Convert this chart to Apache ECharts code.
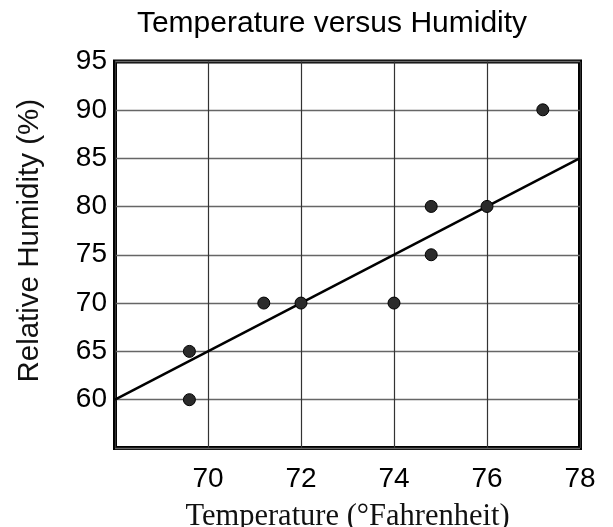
<!DOCTYPE html>
<html>
<head>
<meta charset="utf-8">
<script src="https://cdn.jsdelivr.net/npm/echarts@6/dist/echarts.min.js"></script>
<style>
html,body{margin:0;padding:0;background:#fff;}
#chart{width:613px;height:527px;}
</style>
</head>
<body>
<div id="chart"></div>
<script>
// Data
const temperatures = [69.6, 69.6, 71.2, 72, 74, 74.8, 74.8, 76, 77.2];
const humidities   = [65,   60,   70,   70, 70, 80,   75,   80, 90];
const trendTemps     = [68, 78];
const trendHumidity  = [60, 85];
const chartTitle = 'Temperature versus Humidity';
const xName = 'Temperature (°Fahrenheit)';
const yName = 'Relative Humidity (%)';

const points = temperatures.map((t, i) => [t, humidities[i]]);
const trend = trendTemps.map((t, i) => [t, trendHumidity[i]]);

const chart = echarts.init(document.getElementById('chart'), null, {renderer: 'canvas'});
chart.setOption({
  animation: false,
  backgroundColor: '#fff',
  title: {
    text: chartTitle,
    left: 332,
    top: 9,
    padding: 0,
    textAlign: 'center',
    textStyle: {fontFamily: 'Liberation Sans', fontSize: 30, fontWeight: 'normal', color: '#000'}
  },
  grid: {
    left: 115, right: 33, top: 61.5, bottom: 79,
    outerBoundsMode: 'none', containLabel: false,
    show: true, borderColor: '#000', borderWidth: 4, backgroundColor: 'transparent'
  },
  xAxis: {
    type: 'value', min: 68, max: 78, interval: 2,
    name: xName, nameLocation: 'middle', nameGap: 53,
    nameTextStyle: {fontFamily: 'Liberation Serif', fontSize: 30.5, color: '#111'},
    axisLine: {show: false}, axisTick: {show: false},
    axisLabel: {showMinLabel: false, fontFamily: 'Liberation Sans', fontSize: 28, color: '#000', margin: 17},
    splitLine: {show: true, lineStyle: {color: '#333', width: 1.2}}
  },
  yAxis: {
    type: 'value', min: 55, max: 95, interval: 5,
    name: yName, nameLocation: 'middle', nameGap: 70, nameRotate: 90,
    nameTextStyle: {fontFamily: 'Liberation Sans', fontSize: 29.5, color: '#111', padding: [0, 0, 0, 28]},
    axisLine: {show: false}, axisTick: {show: false},
    axisLabel: {showMinLabel: false, fontFamily: 'Liberation Sans', fontSize: 28, color: '#000', margin: 8},
    splitLine: {show: true, lineStyle: {color: '#666', width: 1.3}}
  },
  series: [
    {
      type: 'line', data: trend, showSymbol: false, symbol: 'none',
      lineStyle: {color: '#000', width: 2.5}, z: 3
    },
    {
      type: 'scatter', data: points, symbol: 'circle', symbolSize: 12,
      itemStyle: {color: '#2b2b2b', borderColor: '#000', borderWidth: 1, opacity: 1}, z: 4
    }
  ]
});
</script>
</body>
</html>
